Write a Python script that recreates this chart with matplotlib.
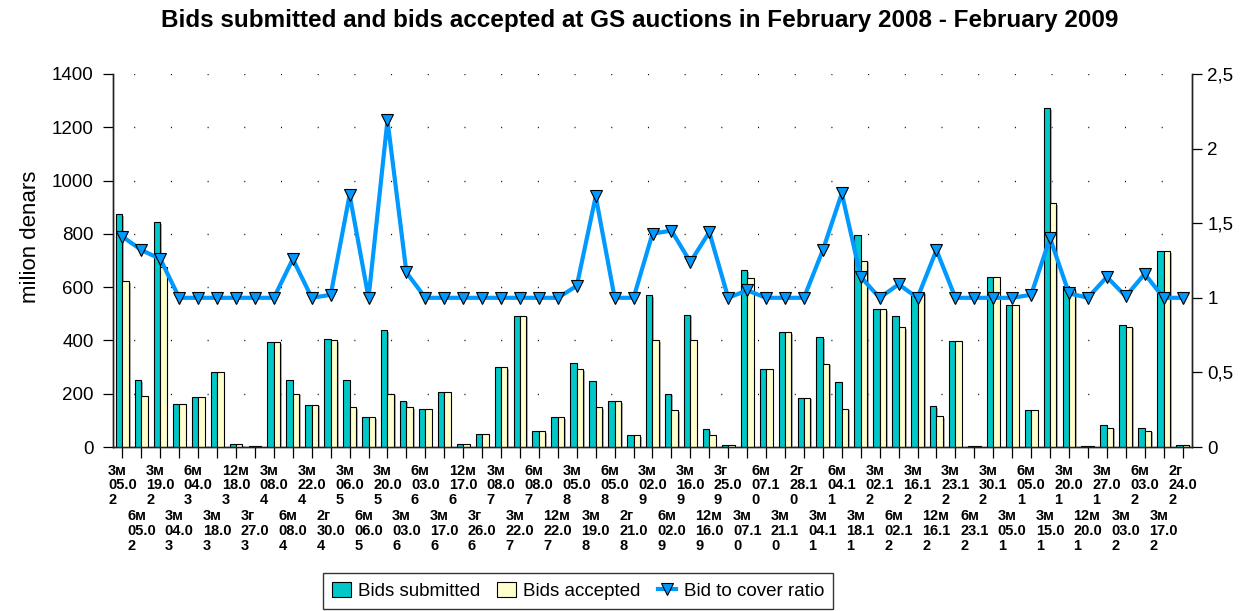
import numpy as np
import matplotlib
matplotlib.use("Agg")
import matplotlib.pyplot as plt
from matplotlib import patheffects as pe
from matplotlib.lines import Line2D
from matplotlib.patches import Patch

plt.rcParams['font.family'] = ['Liberation Sans', 'DejaVu Sans']

# ---------------- data ----------------
categories = [
    "3м 05.02", "6м 05.02", "3м 19.02", "3м 04.03", "6м 04.03", "3м 18.03",
    "12м 18.03", "3г 27.03", "3м 08.04", "6м 08.04", "3м 22.04", "2г 30.04",
    "3м 06.05", "6м 06.05", "3м 20.05", "3м 03.06", "6м 03.06", "3м 17.06",
    "12м 17.06", "3г 26.06", "3м 08.07", "3м 22.07", "6м 08.07", "12м 22.07",
    "3м 05.08", "3м 19.08", "6м 05.08", "2г 21.08", "3м 02.09", "6м 02.09",
    "3м 16.09", "12м 16.09", "3г 25.09", "3м 07.10", "6м 07.10", "3м 21.10",
    "2г 28.10", "3м 04.11", "6м 04.11", "3м 18.11", "3м 02.12", "6м 02.12",
    "3м 16.12", "12м 16.12", "3м 23.12", "6м 23.12", "3м 30.12", "3м 05.01",
    "6м 05.01", "3м 15.01", "3м 20.01", "12м 20.01", "3м 27.01", "3м 03.02",
    "6м 03.02", "3м 17.02", "2г 24.02",
]

bids_submitted = [
    874, 250, 845, 163, 188, 283, 11, 2, 394, 253, 159, 407,
    253, 111, 438, 174, 144, 205, 10, 50, 299, 493, 60, 111,
    314, 249, 172, 44, 570, 200, 497, 66, 9, 664, 291, 432,
    185, 413, 245, 795, 517, 490, 579, 154, 396, 3, 639, 533,
    140, 1273, 605, 5, 83, 457, 70, 734, 9,
]

bids_accepted = [
    622, 190, 674, 163, 188, 283, 11, 2, 394, 200, 159, 400,
    150, 111, 200, 150, 144, 205, 10, 50, 299, 493, 60, 111,
    292, 149, 172, 44, 400, 138, 403, 46, 9, 634, 291, 432,
    185, 313, 144, 700, 517, 450, 579, 116, 396, 3, 639, 533,
    138, 914, 592, 5, 73, 452, 61, 734, 9,
]

bid_to_cover = [
    1.41, 1.32, 1.26, 1.0, 1.0, 1.0, 1.0, 1.0, 1.0, 1.26, 1.0, 1.02,
    1.69, 1.0, 2.19, 1.17, 1.0, 1.0, 1.0, 1.0, 1.0, 1.0, 1.0, 1.0,
    1.08, 1.68, 1.0, 1.0, 1.43, 1.45, 1.24, 1.44, 1.0, 1.05, 1.0, 1.0,
    1.0, 1.32, 1.70, 1.14, 1.0, 1.09, 1.0, 1.32, 1.0, 1.0, 1.0, 1.0,
    1.02, 1.40, 1.03, 1.0, 1.14, 1.01, 1.16, 1.0, 1.0,
]

left_ticks = [0, 200, 400, 600, 800, 1000, 1200, 1400]
right_ticks = [0, 0.5, 1, 1.5, 2, 2.5]
right_tick_labels = ["0", "0,5", "1", "1,5", "2", "2,5"]

title = "Bids submitted and bids accepted at GS auctions in February 2008 - February 2009"
ylabel = "milion denars"
legend_labels = ["Bids submitted", "Bids accepted", "Bid to cover ratio"]

# ---------------- style ----------------
TEAL = "#00C8C8"
CREAM = "#FFFFCC"
BLUE = "#0099FF"

W, H = 1250, 611
fig = plt.figure(figsize=(W / 100, H / 100), dpi=100)
ax = fig.add_axes([113 / W, 1 - 447 / H, (1192 - 113) / W, (447 - 74) / H])
ax2 = ax.twinx()

n = len(categories)
x = np.arange(n)
bw = 0.34
shadow = [pe.SimplePatchShadow(offset=(1.2, -1.2), shadow_rgbFace="0.55", alpha=0.7), pe.Normal()]
b1 = ax.bar(x - bw / 2, bids_submitted, width=bw, color=TEAL, edgecolor="black",
            linewidth=0.8, zorder=3)
b2 = ax.bar(x + bw / 2, bids_accepted, width=bw, color=CREAM, edgecolor="black",
            linewidth=0.8, zorder=3)
for p in list(b1) + list(b2):
    p.set_path_effects(shadow)

ax2.plot(x, bid_to_cover, color=BLUE, linewidth=3.0, marker="v", markersize=8,
         markerfacecolor=BLUE, markeredgecolor="black", markeredgewidth=0.8, zorder=4)

ax.set_xlim(-0.5, n - 0.5)
ax.set_ylim(0, 1400)
ax2.set_ylim(0, 2.5)

ax.set_yticks(left_ticks)
ax.set_yticklabels([str(t) for t in left_ticks])
ax2.set_yticks(right_ticks)
ax2.set_yticklabels(right_tick_labels)

# dotted grid
ax.set_axisbelow(True)
ax.yaxis.grid(True, color="black", linewidth=1.0, linestyle=(11.5, (0.72, 25.7)))
ax.xaxis.grid(False)

# x tick labels, wrapped and staggered like the original
def wrap(lbl):
    term, date = lbl.split(" ")
    return f"{term}\n{date[:4]}\n{date[4:]}"

ax.set_xticks(x)
ax.set_xticklabels([wrap(c) for c in categories], fontsize=10.5, fontweight="bold",
                   linespacing=1.05, multialignment="left")

ax.tick_params(axis="x", direction="out", length=8, width=0.9, pad=4, colors="black")
ax.tick_params(axis="y", direction="out", length=7, width=0.9, pad=7, labelsize=13.5)
ax2.tick_params(axis="y", direction="out", length=7, width=0.9, pad=4, labelsize=13.5)

for i, t in enumerate(ax.xaxis.get_major_ticks()):
    if i % 2 == 1:
        t.set_pad(4 + 33)

for a in (ax, ax2):
    a.spines["top"].set_visible(False)
    for s in ("left", "right", "bottom"):
        a.spines[s].set_color("#222222")
        a.spines[s].set_linewidth(1.0)

fig.text(0.512, 0.966, title, ha="center", va="center", fontsize=17.5, fontweight="bold")
fig.text(0.024, 1 - 237 / H, ylabel, ha="center", va="center", rotation=90, fontsize=16)

handles = [
    Patch(facecolor=TEAL, edgecolor="black", linewidth=0.8),
    Patch(facecolor=CREAM, edgecolor="black", linewidth=0.8),
    Line2D([0], [0], color=BLUE, linewidth=3.0, marker="v", markersize=8,
           markerfacecolor=BLUE, markeredgecolor="black", markeredgewidth=0.8),
]
leg = fig.legend(handles, legend_labels, loc="center", bbox_to_anchor=(578 / W, 1 - 591 / H),
                 ncol=3, fontsize=13.5, frameon=True, fancybox=False, edgecolor="black",
                 handlelength=1.0, handleheight=0.9, handletextpad=0.4, columnspacing=0.9,
                 borderpad=0.45, borderaxespad=0)
leg.get_frame().set_linewidth(1.0)

fig.savefig("out.png", dpi=100)
